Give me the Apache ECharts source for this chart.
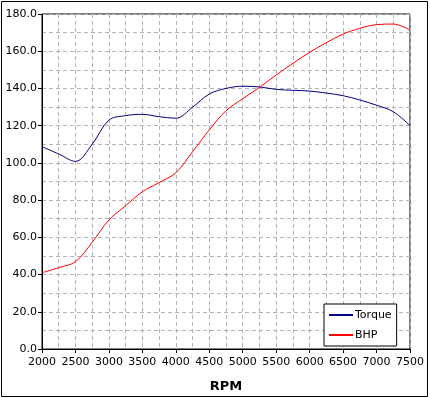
<!DOCTYPE html>
<html>
<head>
<meta charset="utf-8">
<script src="https://cdn.jsdelivr.net/npm/echarts@6/dist/echarts.min.js"></script>
<style>
  html, body { margin: 0; padding: 0; background: #fff; }
  #chart { width: 430px; height: 398px; }
</style>
</head>
<body>
<div id="chart"></div>
<script>
// rpm sample points (x axis)
const rpm = [2000, 2250, 2500, 2750, 3000, 3250, 3500, 3750, 4000, 4250, 4500, 4750,
  5000, 5250, 5500, 5750, 6000, 6250, 6500, 6750, 7000, 7250, 7500]
const torque = [108.7, 104.8, 100.8, 110.0, 123.0, 125.4, 126.1, 124.8, 124.0, 129.9, 137.0, 140.0,
  141.2, 140.8, 139.5, 139.0, 138.6, 137.5, 136.1, 133.8, 131.0, 127.5, 120.0]
const bhp = [41.0, 43.7, 46.9, 57.3, 69.3, 77.0, 84.5, 89.4, 94.7, 106.0, 117.7, 128.0,
  134.5, 140.6, 147.2, 153.5, 159.4, 164.6, 169.2, 172.3, 174.3, 174.6, 171.4]
const seriesNames = ['Torque', 'BHP']
const colors = ['#000080', '#ff0000']

const font = 'DejaVu Sans'
const gridDash = { color: '#b4b4b4', type: [4, 3], width: 1 }

const pairs = (ys) => rpm.map((x, i) => [x, ys[i]])

const chart = echarts.init(document.getElementById('chart'))
chart.setOption({
  animation: false,
  backgroundColor: '#fff',
  textStyle: { fontFamily: font },
  graphic: [{
    type: 'rect',
    shape: { x: 1.5, y: 1.5, width: 426, height: 395 },
    style: { fill: 'none', stroke: '#000', lineWidth: 1 },
    z: 100
  }],
  grid: {
    left: 42,
    top: 14,
    right: 20,
    bottom: 49,
    show: true,
    borderColor: '#000',
    borderWidth: 1
  },
  legend: {
    orient: 'vertical',
    left: 324,
    top: 304,
    padding: [4, 5, 4, 5],
    itemGap: 6,
    icon: 'rect',
    itemWidth: 24,
    itemHeight: 2,
    backgroundColor: '#fff',
    borderColor: '#000',
    borderWidth: 1,
    textStyle: { fontFamily: font, fontSize: 11, color: '#000', padding: [0, 0, 0, -3], lineHeight: 14 },
    data: seriesNames.map((n, i) => ({
      name: n,
      itemStyle: { color: colors[i], borderWidth: 0 }
    }))
  },
  xAxis: {
    type: 'value',
    min: 2000,
    max: 7500,
    interval: 500,
    name: 'RPM',
    nameLocation: 'middle',
    nameGap: 31,
    nameTextStyle: { fontFamily: font, fontSize: 13, fontWeight: 'bold', color: '#000' },
    axisLine: { lineStyle: { color: '#000', width: 1 } },
    axisTick: { show: true, length: 4, lineStyle: { color: '#000' } },
    axisLabel: {
      color: '#000', fontSize: 11, fontFamily: font, margin: 8,
      formatter: (v) => String(v)
    },
    splitLine: { show: true, lineStyle: gridDash },
    minorTick: { show: false, splitNumber: 2 },
    minorSplitLine: { show: true, lineStyle: gridDash }
  },
  yAxis: {
    type: 'value',
    min: 0,
    max: 180,
    interval: 20,
    axisLine: { show: true, lineStyle: { color: '#000', width: 1 } },
    axisTick: { show: true, length: 4, lineStyle: { color: '#000' } },
    axisLabel: {
      color: '#000', fontSize: 11, fontFamily: font, margin: 5,
      formatter: (v) => v.toFixed(1)
    },
    splitLine: { show: true, lineStyle: gridDash },
    minorTick: { show: false, splitNumber: 2 },
    minorSplitLine: { show: true, lineStyle: gridDash }
  },
  series: [{
    name: seriesNames[0],
    type: 'line',
    data: pairs(torque),
    smooth: 0.35,
    symbol: 'none',
    lineStyle: { color: colors[0], width: 1 },
    itemStyle: { color: colors[0] }
  }, {
    name: seriesNames[1],
    type: 'line',
    data: pairs(bhp),
    smooth: 0.35,
    symbol: 'none',
    lineStyle: { color: colors[1], width: 1 },
    itemStyle: { color: colors[1] }
  }]
})
</script>
</body>
</html>
